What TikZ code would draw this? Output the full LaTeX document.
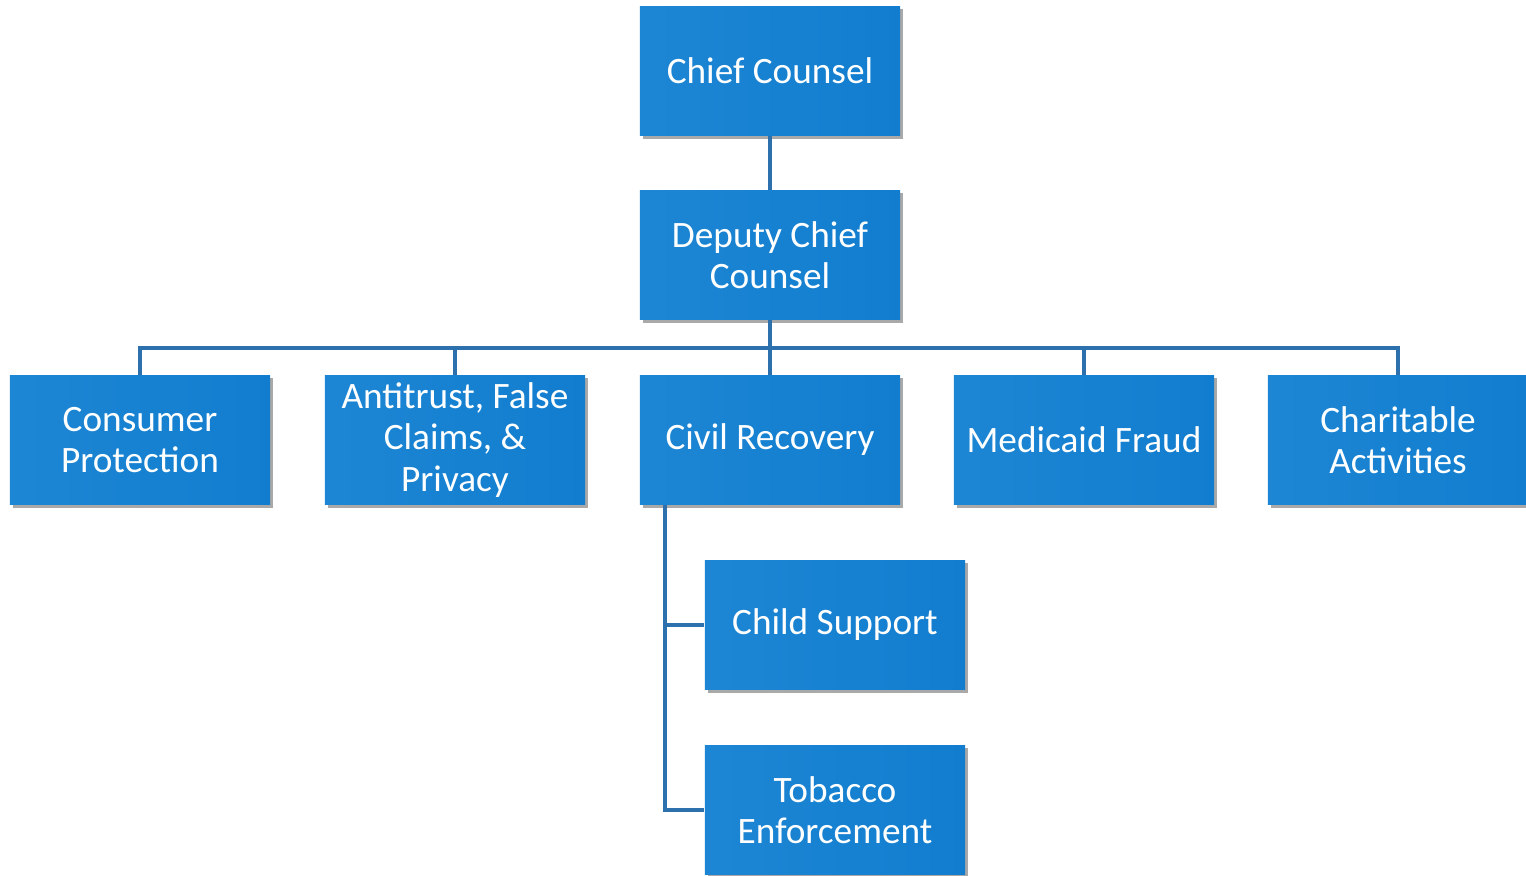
\documentclass[tikz,border=0pt]{standalone}
\usepackage{fontspec}
\setmainfont{Carlito}
\usetikzlibrary{shadows}
\definecolor{boxblue}{HTML}{127DCF}
\definecolor{boxlight}{HTML}{1D86D4}
\definecolor{linkblue}{HTML}{2C70AE}
\begin{document}
\begin{tikzpicture}[
  x=0.01cm, y=-0.01cm,
  unit/.style={rectangle, minimum width=2.6cm, minimum height=1.29cm, align=center,
    inner ysep=1pt, left color=boxlight, right color=boxblue, draw=none, text=white,
    font=\fontsize{10.6}{11.8}\selectfont,
    drop shadow={shadow xshift=0.03cm, shadow yshift=-0.03cm, opacity=0.45, fill=black!75}},
  link/.style={draw=linkblue, line width=1.2pt}
]
\useasboundingbox (0,0) rectangle (1526,876);
\node[unit] (chief) at (770,71) {Chief Counsel};
\node[unit] (deputy) at (770,255) {Deputy Chief\\Counsel};
\node[unit] (consumer) at (140,440) {Consumer\\Protection};
\node[unit] (antitrust) at (455,440) {Antitrust, False\\Claims, \&\\Privacy};
\node[unit] (civil) at (770,440) {Civil Recovery};
\node[unit] (medicaid) at (1084,440) {Medicaid Fraud};
\node[unit] (charity) at (1398,440) {Charitable\\Activities};
\node[unit] (child) at (835,625) {Child Support};
\node[unit] (tobacco) at (835,810) {Tobacco\\Enforcement};
\coordinate (bus) at (770,348);
\coordinate (drop) at (665,505);
% connectors
\draw[link] (chief) -- (deputy);
\draw[link] (deputy) -- (bus);
\foreach \d in {consumer,antitrust,civil,medicaid,charity}
  \draw[link] (bus) -| (\d);
\draw[link] (drop) |- (child.west);
\draw[link] (drop) |- (tobacco.west);
\end{tikzpicture}
\end{document}
